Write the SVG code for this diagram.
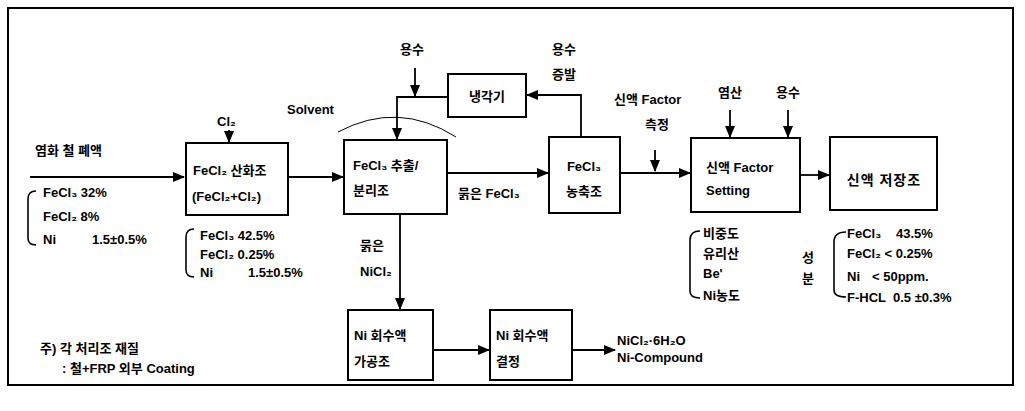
<svg xmlns="http://www.w3.org/2000/svg" width="1025" height="411" viewBox="0 0 1025 411">
<style>
text{font-family:"Liberation Sans","Noto Sans CJK KR",sans-serif;font-size:13px;font-weight:bold;fill:#000}
.box{fill:#fff;stroke:#000;stroke-width:2}
.ln{fill:none;stroke:#000;stroke-width:1.8}
.br{fill:none;stroke:#000;stroke-width:1.6}
.c{text-anchor:middle}
</style>
<defs>
<marker id="ah" markerWidth="12" markerHeight="12" refX="11" refY="6" orient="auto" markerUnits="userSpaceOnUse"><path d="M0,1 L12,6 L0,11 z" fill="#000"/></marker>
</defs>
<rect x="8" y="8" width="1005" height="377" fill="#fff" stroke="#000" stroke-width="2"/>

<g id="connectors">
<path class="ln" d="M30,177 H184" marker-end="url(#ah)"/>
<path class="ln" d="M229,130 V142" marker-end="url(#ah)"/>
<path class="ln" d="M288,177 H343" marker-end="url(#ah)"/>
<path class="ln" d="M415,68 V96" marker-end="url(#ah)"/>
<path class="ln" d="M448,97 H397 V139" marker-end="url(#ah)"/>
<path class="ln" d="M581,137 V95 H527" marker-end="url(#ah)"/>
<path class="ln" d="M447,173 H548" marker-end="url(#ah)"/>
<path class="ln" d="M620,173 H690" marker-end="url(#ah)"/>
<path class="ln" d="M655,150 V171" marker-end="url(#ah)"/>
<path class="ln" d="M730,110 V137" marker-end="url(#ah)"/>
<path class="ln" d="M788,110 V137" marker-end="url(#ah)"/>
<path class="ln" d="M800,175 H829" marker-end="url(#ah)"/>
<path class="ln" d="M400,214 V309" marker-end="url(#ah)"/>
<path class="ln" d="M433,350 H489" marker-end="url(#ah)"/>
<path class="ln" d="M572,350 H615" marker-end="url(#ah)"/>
<path fill="none" stroke="#000" stroke-width="1" d="M338,132 Q398,100 456,137"/>
</g>

<g id="labels">
<text x="35" y="155">염화 철 폐액</text>
<text x="217" y="126">Cl₂</text>
<text x="287" y="114">Solvent</text>
<text x="400" y="54">용수</text>
<text x="552" y="54">용수</text>
<text x="552" y="79">증발</text>
<text x="614" y="104">신액 Factor</text>
<text x="645" y="129">측정</text>
<text x="718" y="97">염산</text>
<text x="776" y="97">용수</text>
<text x="458" y="198">묽은 FeCl₃</text>
<text x="360" y="250">묽은</text>
<text x="360" y="276">NiCl₂</text>
<text x="617" y="345">NiCl₂·6H₂O</text>
<text x="617" y="362">Ni-Compound</text>
</g>

<g id="feed-comp">
<path class="br" d="M36,191 Q28,191 28,199 L28,238 Q28,245 36,245"/>
<text x="43" y="197">FeCl₃ 32%</text>
<text x="43" y="221">FeCl₂ 8%</text>
<text x="43" y="244">Ni<tspan x="92">1.5±0.5%</tspan></text>
</g>

<g id="oxid-comp">
<path class="br" d="M194,229 Q186,229 186,237 L186,270 Q186,277 194,277"/>
<text x="200" y="240">FeCl₃ 42.5%</text>
<text x="200" y="259">FeCl₂ 0.25%</text>
<text x="200" y="277">Ni<tspan x="248">1.5±0.5%</tspan></text>
</g>

<g id="oxidation-tank">
<rect class="box" x="186" y="143" width="102" height="72"/>
<text x="193" y="175">FeCl₂ 산화조</text>
<text x="192" y="201">(FeCl₂+Cl₂)</text>
</g>

<g id="extraction-tank">
<rect class="box" x="344" y="140" width="103" height="74"/>
<text x="353" y="170">FeCl₃ 추출/</text>
<text x="353" y="195">분리조</text>
</g>

<g id="cooler">
<rect class="box" x="448" y="74" width="78" height="43"/>
<text class="c" x="487" y="101">냉각기</text>
</g>

<g id="concentration-tank">
<rect class="box" x="549" y="137" width="71" height="76"/>
<text class="c" x="584" y="171">FeCl₃</text>
<text class="c" x="584" y="196">농축조</text>
</g>

<g id="factor-setting">
<rect class="box" x="691" y="138" width="109" height="74"/>
<text x="706" y="172">신액 Factor</text>
<text x="706" y="195">Setting</text>
</g>

<g id="factor-items">
<path class="br" d="M700,231 Q690,231 690,240 L690,291 Q690,298 700,298"/>
<text x="703" y="238">비중도</text>
<text x="703" y="258">유리산</text>
<text x="703" y="278">Be'</text>
<text x="703" y="300">Ni농도</text>
</g>

<g id="storage-tank">
<rect class="box" x="830" y="137" width="107" height="73"/>
<text class="c" x="884" y="185" style="font-size:14px;letter-spacing:1px">신액 저장조</text>
</g>

<g id="product-comp">
<text x="802" y="262">성</text>
<text x="802" y="283">분</text>
<path class="br" d="M846,232 Q834,232 834,242 L834,290 Q834,297 846,297"/>
<text x="847" y="238">FeCl₃<tspan x="896">43.5%</tspan></text>
<text x="847" y="258">FeCl₂ &lt; 0.25%</text>
<text x="847" y="281">Ni<tspan x="872">&lt; 50ppm.</tspan></text>
<text x="847" y="302">F-HCL<tspan x="893">0.5 ±0.3%</tspan></text>
</g>

<g id="ni-recovery-tank">
<rect class="box" x="348" y="310" width="85" height="70"/>
<text x="354" y="340">Ni 회수액</text>
<text x="354" y="366">가공조</text>
</g>

<g id="ni-crystal">
<rect class="box" x="490" y="310" width="82" height="70"/>
<text x="496" y="340">Ni 회수액</text>
<text x="496" y="366">결정</text>
</g>

<g id="note">
<text x="40" y="353">주) 각 처리조 재질</text>
<text x="62" y="373">: 철+FRP 외부 Coating</text>
</g>
</svg>
